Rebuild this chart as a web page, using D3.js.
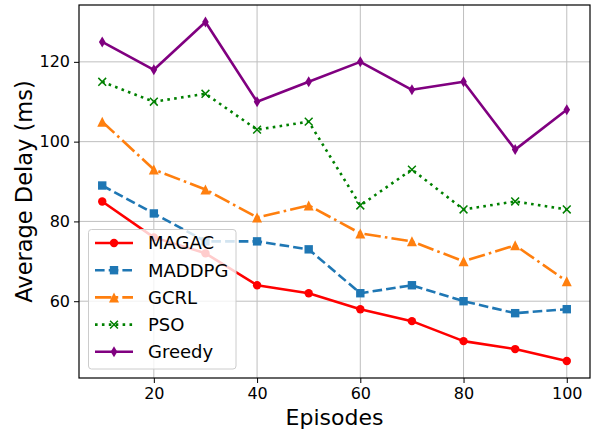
<!DOCTYPE html>
<html>
<head>
<meta charset="utf-8">
<script src="https://cdn.jsdelivr.net/npm/d3@7"></script>
<style>
  html, body { margin: 0; padding: 0; background: #fff; }
  svg { display: block; font-family: "DejaVu Sans", sans-serif; }
</style>
</head>
<body>
<svg id="chart" width="595" height="432"></svg>
<script>
// Episodes sampled on the x axis
const episodes = [10, 20, 30, 40, 50, 60, 70, 80, 90, 100];

// Average delay (ms) per method
const magac  = [85, 76, 72, 64, 62, 58, 55, 50, 48, 45];
const maddpg = [89, 82, 75, 75, 73, 62, 64, 60, 57, 58];
const gcrl   = [105, 93, 88, 81, 84, 77, 75, 70, 74, 65];
const pso    = [115, 110, 112, 103, 105, 84, 93, 83, 85, 83];
const greedy = [125, 118, 130, 110, 115, 120, 113, 115, 98, 108];

const seriesNames = ["MAGAC", "MADDPG", "GCRL", "PSO", "Greedy"];
const xTicks = [20, 40, 60, 80, 100];
const yTicks = [60, 80, 100, 120];

const seriesValues = [magac, maddpg, gcrl, pso, greedy];
const styles = [
  { color: "#ff0000", dash: null,                marker: "circle"   },
  { color: "#1f77b4", dash: "9.6,4.1",           marker: "square"   },
  { color: "#ff7f0e", dash: "16.5,4.1,2.6,4.1",  marker: "triangle" },
  { color: "#008000", dash: "2.6,4.3",           marker: "x"        },
  { color: "#800080", dash: null,                marker: "thindiamond" }
];

const svg = d3.select("#chart");
const plot = { left: 79, right: 590, top: 5, bottom: 378 };

svg.append("rect").attr("width", 595).attr("height", 432).attr("fill", "#fff");

const allVals = seriesValues.flat();
const yMin = d3.min(allVals), yMax = d3.max(allVals);
const yPad = (yMax - yMin) * 0.05;
const xMin = d3.min(episodes), xMax = d3.max(episodes);
const xPad = (xMax - xMin) * 0.05;

const x = d3.scaleLinear().domain([xMin - xPad, xMax + xPad]).range([plot.left, plot.right]);
const y = d3.scaleLinear().domain([yMin - yPad, yMax + yPad]).range([plot.bottom, plot.top]);

// grid
const grid = svg.append("g").attr("stroke", "#b0b0b0").attr("stroke-width", 1).attr("opacity", 0.8);
xTicks.forEach(t => grid.append("line")
  .attr("x1", x(t)).attr("x2", x(t)).attr("y1", plot.top).attr("y2", plot.bottom));
yTicks.forEach(t => grid.append("line")
  .attr("x1", plot.left).attr("x2", plot.right).attr("y1", y(t)).attr("y2", y(t)));

// axes
const xAxis = svg.append("g")
  .attr("transform", `translate(0,${plot.bottom})`)
  .call(d3.axisBottom(x).tickValues(xTicks).tickSize(5).tickPadding(5).tickSizeOuter(0));
const yAxis = svg.append("g")
  .attr("transform", `translate(${plot.left},0)`)
  .call(d3.axisLeft(y).tickValues(yTicks).tickSize(5).tickPadding(4).tickSizeOuter(0));
[xAxis, yAxis].forEach(a => {
  a.select(".domain").remove();
  a.selectAll(".tick line").attr("stroke", "#000").attr("stroke-width", 1);
  a.selectAll(".tick text").attr("fill", "#000").style("font-size", "16px")
    .style("font-family", "DejaVu Sans, sans-serif");
});

// markers
function drawMarker(g, type, cx, cy, color) {
  if (type === "circle") {
    g.append("circle").attr("cx", cx).attr("cy", cy).attr("r", 4.2).attr("fill", color);
  } else if (type === "square") {
    g.append("rect").attr("x", cx - 4.2).attr("y", cy - 4.2).attr("width", 8.4).attr("height", 8.4).attr("fill", color);
  } else if (type === "triangle") {
    const s = 5;
    g.append("path").attr("d", `M${cx},${cy - s} L${cx + s},${cy + s} L${cx - s},${cy + s} Z`).attr("fill", color);
  } else if (type === "x") {
    const s = 3.9;
    g.append("path").attr("d", `M${cx - s},${cy - s} L${cx + s},${cy + s} M${cx - s},${cy + s} L${cx + s},${cy - s}`)
      .attr("stroke", color).attr("stroke-width", 1.5).attr("fill", "none");
  } else if (type === "thindiamond") {
    g.append("path").attr("d", `M${cx},${cy - 5.5} L${cx + 3.3},${cy} L${cx},${cy + 5.5} L${cx - 3.3},${cy} Z`).attr("fill", color);
  }
}

const line = d3.line().x((d, i) => x(episodes[i])).y(d => y(d));

seriesValues.forEach((vals, k) => {
  const st = styles[k];
  const g = svg.append("g");
  g.append("path").datum(vals).attr("d", line)
    .attr("fill", "none").attr("stroke", st.color).attr("stroke-width", 2.6)
    .attr("stroke-dasharray", st.dash).attr("stroke-linejoin", "round");
  vals.forEach((v, i) => drawMarker(g, st.marker, x(episodes[i]), y(v), st.color));
});

// frame
svg.append("rect").attr("x", plot.left).attr("y", plot.top)
  .attr("width", plot.right - plot.left).attr("height", plot.bottom - plot.top)
  .attr("fill", "none").attr("stroke", "#000").attr("stroke-width", 1.2);

// axis titles
svg.append("text").attr("x", (plot.left + plot.right) / 2).attr("y", 424.5)
  .attr("text-anchor", "middle").style("font-size", "22px").text("Episodes");
svg.append("text").attr("transform", `translate(32,${(plot.top + plot.bottom) / 2}) rotate(-90)`)
  .attr("text-anchor", "middle").style("font-size", "22.5px").text("Average Delay (ms)");

// legend
const lg = svg.append("g");
lg.append("rect").attr("x", 88.5).attr("y", 229.5).attr("width", 147.5).attr("height", 139.5)
  .attr("rx", 3).attr("fill", "#fff").attr("fill-opacity", 0.8)
  .attr("stroke", "#cccccc").attr("stroke-width", 1);
seriesNames.forEach((name, k) => {
  const st = styles[k];
  const cy = 243 + k * 27.2;
  lg.append("line").attr("x1", 95).attr("x2", 133).attr("y1", cy).attr("y2", cy)
    .attr("stroke", st.color).attr("stroke-width", 2.6).attr("stroke-dasharray", st.dash);
  drawMarker(lg, st.marker, 114, cy, st.color);
  lg.append("text").attr("x", 148).attr("y", cy).attr("dy", "0.36em")
    .style("font-size", "18px").attr("fill", "#000").text(name);
});
</script>
</body>
</html>
